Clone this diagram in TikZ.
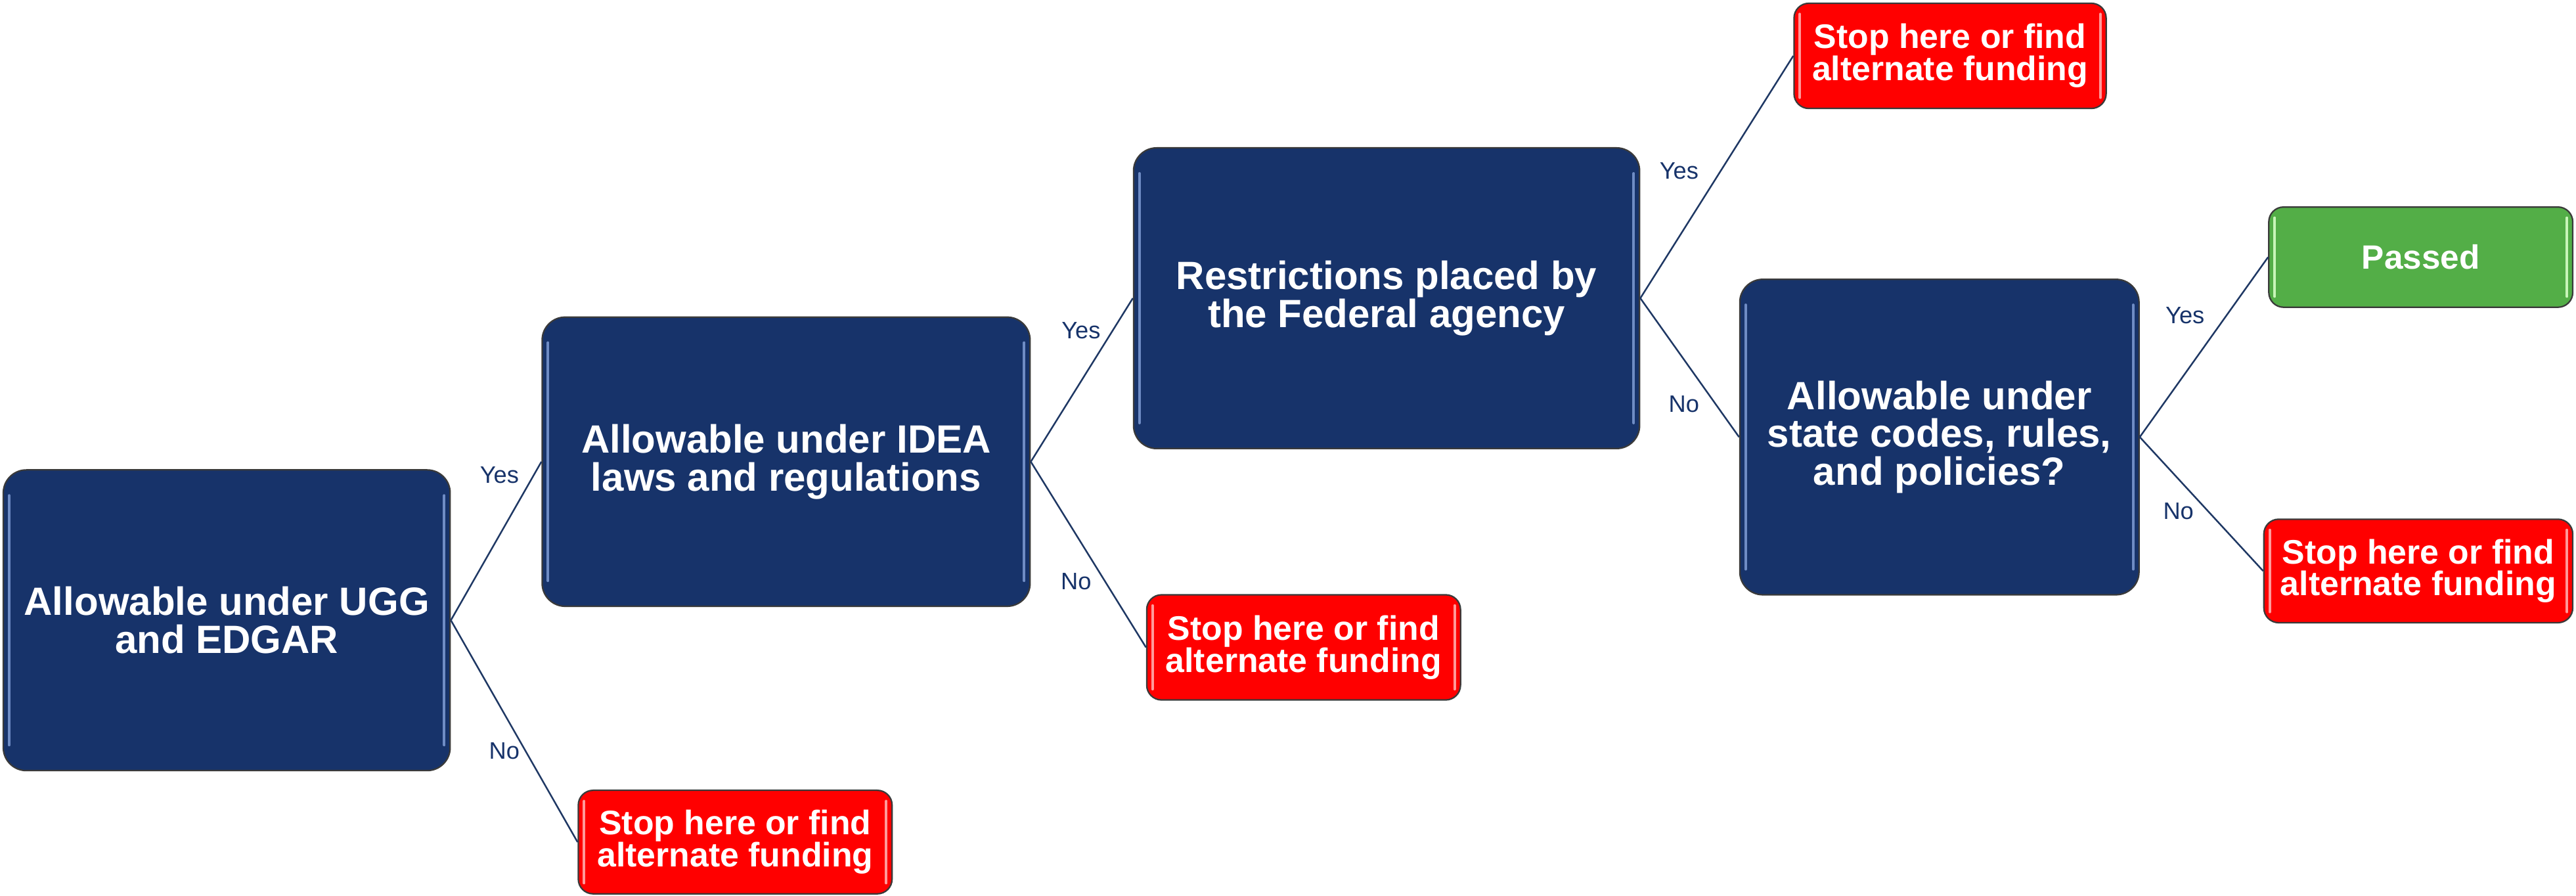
\documentclass[tikz,border=0pt]{standalone}
\usepackage{fontspec}
\setmainfont{Liberation Sans}
\definecolor{navy}{HTML}{17336A}
\definecolor{navyhl}{HTML}{6F8CC4}
\definecolor{redbox}{HTML}{FF0000}
\definecolor{redhl}{HTML}{FF9A9A}
\definecolor{greenbox}{HTML}{53AE47}
\definecolor{greenhl}{HTML}{C8F5B8}
\definecolor{edge}{HTML}{3A3A3A}
\definecolor{linec}{HTML}{1F3864}
\tikzset{
  qbox/.style={draw=edge, line width=0.9pt, fill=navy, rounded corners=14pt, text=white,
    font=\fontsize{24}{23}\selectfont\bfseries, align=center, inner sep=0pt},
  stopbox/.style={draw=edge, line width=0.9pt, fill=redbox, rounded corners=9pt, text=white,
    font=\fontsize{20.7}{19.5}\selectfont\bfseries, align=center, inner sep=0pt},
  passbox/.style={draw=edge, line width=0.9pt, fill=greenbox, rounded corners=9pt, text=white,
    font=\fontsize{20.5}{20}\selectfont\bfseries, align=center, inner sep=0pt},
  conn/.style={draw=linec, line width=1pt},
  lbl/.style={text=navy, font=\fontsize{14.5}{16}\selectfont, inner sep=0pt},
  hl/.style={line width=1.6pt, line cap=round}
}
\begin{document}
\begin{tikzpicture}[x=1pt,y=-1pt]
\useasboundingbox (0,0) rectangle (1568,545);
% question boxes
\node[qbox, minimum width=272pt, minimum height=183pt] (b1) at (138,377.5) {Allowable under UGG\\and EDGAR};
\node[qbox, minimum width=297pt, minimum height=176pt] (b2) at (478.5,281) {Allowable under IDEA\\laws and regulations};
\node[qbox, minimum width=308pt, minimum height=183pt] (b3) at (844,181.5) {Restrictions placed by\\the Federal agency};
\node[qbox, minimum width=243pt, minimum height=192pt] (b4) at (1180.5,266) {Allowable under\\state codes, rules,\\and policies?};
% outcome boxes
\node[stopbox, minimum width=190pt, minimum height=64pt] (r1) at (1187,34) {Stop here or find\\alternate funding};
\node[passbox, minimum width=185pt, minimum height=61pt] (g1) at (1473.5,156.5) {Passed};
\node[stopbox, minimum width=188pt, minimum height=63pt] (r2) at (1472,347.5) {Stop here or find\\alternate funding};
\node[stopbox, minimum width=191pt, minimum height=64pt] (r3) at (793.5,394) {Stop here or find\\alternate funding};
\node[stopbox, minimum width=191pt, minimum height=63pt] (r4) at (447.5,512.5) {Stop here or find\\alternate funding};
% glossy edge highlights
\foreach \n/\c/\i/\v in {b1/navyhl/4/16, b2/navyhl/4/16, b3/navyhl/4/16, b4/navyhl/4/16,
                        r1/redhl/4/7, r2/redhl/4/7, r3/redhl/4/7, r4/redhl/4/7, g1/greenhl/4/7}{
  \draw[hl, draw=\c] ([xshift=\i pt,yshift=-\v pt]\n.north west) -- ([xshift=\i pt,yshift=\v pt]\n.south west);
  \draw[hl, draw=\c] ([xshift=-\i pt,yshift=-\v pt]\n.north east) -- ([xshift=-\i pt,yshift=\v pt]\n.south east);
}
% connectors
\draw[conn] (b1.east) -- (b2.west);
\draw[conn] (b1.east) -- (r4.west);
\draw[conn] (b2.east) -- (b3.west);
\draw[conn] (b2.east) -- (r3.west);
\draw[conn] (b3.east) -- (r1.west);
\draw[conn] (b3.east) -- (b4.west);
\draw[conn] (b4.east) -- (g1.west);
\draw[conn] (b4.east) -- (r2.west);
% labels
\node[lbl] (y1) at (304,289) {Yes};
\node[lbl] (n1) at (307,457) {No};
\node[lbl] (y2) at (658,201) {Yes};
\node[lbl] (n2) at (655,354) {No};
\node[lbl] (y3) at (1022,104) {Yes};
\node[lbl] (n3) at (1025,246) {No};
\node[lbl] (y4) at (1330,192) {Yes};
\node[lbl] (n4) at (1326,311) {No};
\end{tikzpicture}
\end{document}
